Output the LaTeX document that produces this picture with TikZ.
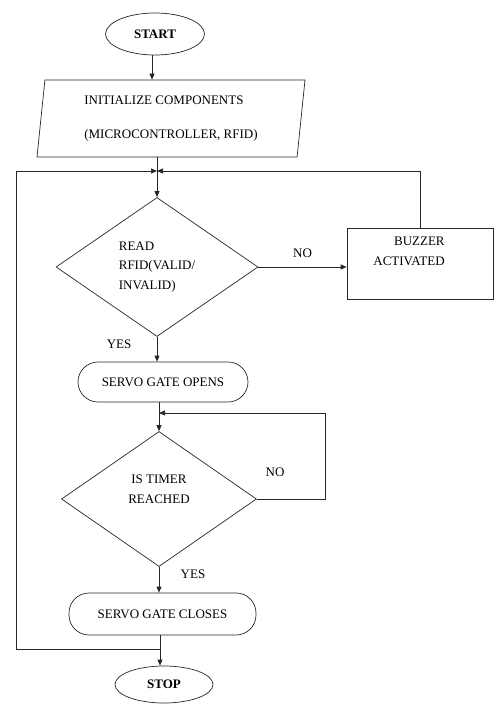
\documentclass[tikz,border=0pt]{standalone}
\usepackage{fontspec}
\setmainfont{Liberation Serif}
\usetikzlibrary{shapes.geometric,arrows.meta}

\tikzset{x=1pt, y=-1pt}
\tikzset{
  line/.style={draw=black!85, line width=0.7pt},
  flow/.style={line, -{Triangle[length=6pt,width=5pt]}},
  terminal/.style={ellipse, line, inner sep=0pt, font=\fontsize{13}{15}\selectfont\bfseries},
  inout/.style={trapezium, line, trapezium left angle=80, trapezium right angle=100,
    trapezium stretches body, inner sep=0pt, align=left},
  decision/.style={diamond, line, inner sep=0pt},
  process/.style={rectangle, line, rounded corners=20pt, inner sep=0pt},
  box/.style={rectangle, line, inner sep=0pt},
}

\begin{document}
\begin{tikzpicture}[every node/.append style={font=\fontsize{13}{19.5}\selectfont}]
\useasboundingbox (0,0) rectangle (494,704);
% nodes
\node[terminal, minimum width=99pt, minimum height=42pt] (start) at (155,34) {START};
\node[inout, minimum width=268pt, minimum height=77pt] (init) at (171,118.5)
  {INITIALIZE COMPONENTS\\[14pt](MICROCONTROLLER, RFID)};
\node[decision, minimum width=202pt, minimum height=139pt, align=left] (read) at (157,267)
  {READ\\RFID(VALID/\\INVALID)};
\node[box, minimum width=146pt, minimum height=71pt] (buzzer) at (420,263.5) {};
\node[align=right] (buzzertext) at (409,251.5) {BUZZER\\ACTIVATED};
\node[process, minimum width=170pt, minimum height=40pt] (opens) at (163,382) {SERVO GATE OPENS};
\node[decision, minimum width=195pt, minimum height=135pt, align=center] (timer) at (159,499)
  {IS TIMER\\REACHED\\\mbox{}};
\node[process, minimum width=187pt, minimum height=42pt] (closes) at (162.5,614) {SERVO GATE CLOSES};
\node[terminal, minimum width=98pt, minimum height=37pt] (stop) at (164,684.5) {STOP};

% junctions
\coordinate (join1) at (157,171);
\coordinate (join2) at (159,413);
\coordinate (join3) at (160,649);

% connectors
\draw[flow] (start.south -| 152,0) -- (init.north -| 152,0);
\draw[line] (read.north |- init.south) -- (join1);
\draw[flow] (join1) -- (read.north);
\draw[flow] (read.east) -- (read.east -| buzzer.west) node[midway, above=6pt] (no1) {NO};
\draw[flow] (buzzer.north) |- (join1);
\draw[flow] (read.south) -- (read.south |- opens.north) node[pos=0.3, left=22pt] (yes1) {YES};
\draw[line] (timer.north |- opens.south) -- (join2);
\draw[flow] (join2) -- (timer.north);
\draw[flow] (timer.east) -- (325,499) |- (join2);
\node (no2) at (275,472) {NO};
\draw[flow] (timer.south) -- (timer.south |- closes.north) node[pos=0.3, right=18pt] (yes2) {YES};
\draw[line] (join3 |- closes.south) -- (join3);
\draw[flow] (join3) -- (join3 |- stop.north);
\draw[flow] (join3) -- (16,649) |- (join1);
\end{tikzpicture}
\end{document}
